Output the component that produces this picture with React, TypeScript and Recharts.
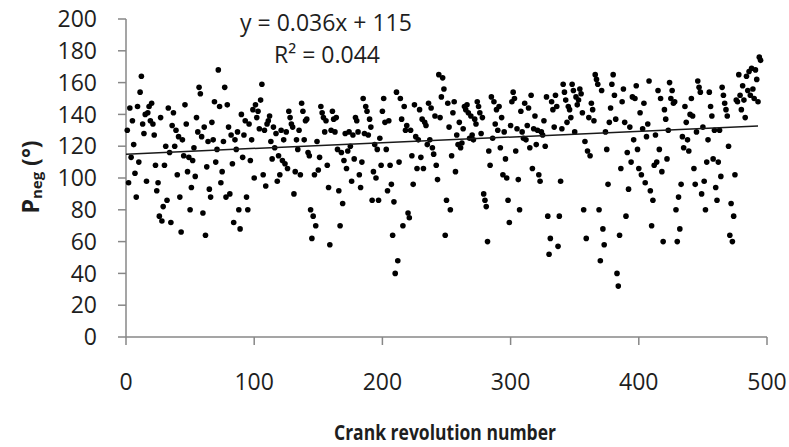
import { ScatterChart, Scatter, XAxis, YAxis } from "recharts";

// P_neg (deg) for each crank revolution (rev 1..495)
const pnegValues = [
  130, 97, 144, 113, 136, 121, 103, 88, 145, 110,
  154, 164, 134, 128, 140, 98, 141, 145, 136, 147,
  134, 127, 108, 92, 97, 76, 138, 73, 82, 108,
  120, 86, 144, 116, 72, 133, 141, 120, 130, 102,
  126, 88, 66, 124, 114, 146, 134, 104, 113, 80,
  94, 111, 119, 101, 138, 129, 157, 153, 126, 78,
  132, 64, 107, 123, 93, 88, 135, 124, 148, 110,
  118, 168, 145, 97, 104, 123, 157, 88, 146, 132,
  90, 127, 109, 72, 124, 118, 129, 80, 68, 140,
  113, 127, 136, 88, 80, 134, 111, 124, 143, 100,
  146, 138, 142, 131, 149, 159, 102, 130, 95, 134,
  136, 139, 123, 112, 132, 119, 128, 98, 114, 102,
  130, 111, 124, 109, 129, 106, 142, 138, 134, 132,
  90, 104, 124, 118, 130, 102, 147, 142, 124, 136,
  137, 116, 114, 80, 62, 76, 102, 70, 123, 105,
  113, 145, 141, 138, 129, 136, 108, 94, 58, 130,
  142, 137, 129, 138, 118, 92, 70, 116, 84, 111,
  128, 106, 117, 129, 120, 98, 127, 112, 138, 136,
  129, 102, 94, 110, 150, 128, 145, 142, 127, 137,
  132, 86, 104, 121, 100, 118, 86, 125, 108, 142,
  150, 135, 118, 92, 136, 108, 96, 64, 85, 40,
  154, 48, 110, 150, 137, 70, 145, 130, 133, 78,
  75, 130, 114, 96, 146, 126, 106, 124, 143, 113,
  137, 106, 135, 133, 121, 147, 124, 144, 119, 115,
  139, 108, 99, 165, 138, 151, 163, 156, 64, 86,
  147, 132, 80, 114, 141, 148, 104, 127, 121, 135,
  119, 122, 131, 145, 143, 146, 141, 125, 139, 127,
  124, 137, 134, 148, 145, 141, 128, 138, 90, 86,
  82, 60, 117, 108, 151, 125, 148, 134, 143, 130,
  145, 119, 138, 102, 129, 112, 100, 86, 72, 133,
  148, 154, 150, 117, 131, 99, 80, 142, 129, 125,
  147, 124, 133, 144, 119, 152, 106, 131, 139, 121,
  130, 102, 98, 129, 127, 136, 120, 151, 76, 52,
  62, 148, 143, 132, 152, 145, 57, 76, 98, 131,
  159, 154, 149, 135, 145, 143, 138, 159, 155, 129,
  151, 146, 149, 156, 153, 141, 80, 123, 62, 117,
  138, 114, 147, 143, 136, 165, 162, 159, 80, 48,
  155, 68, 58, 129, 118, 96, 135, 144, 159, 165,
  152, 137, 40, 32, 64, 106, 148, 156, 135, 76,
  116, 93, 132, 110, 151, 124, 150, 158, 118, 106,
  141, 102, 131, 147, 97, 126, 134, 161, 92, 70,
  86, 108, 127, 110, 155, 118, 150, 104, 60, 143,
  137, 112, 130, 160, 150, 155, 147, 148, 80, 60,
  88, 68, 96, 126, 119, 145, 135, 124, 117, 140,
  150, 139, 106, 96, 129, 161, 157, 154, 90, 132,
  98, 80, 110, 124, 154, 145, 139, 112, 130, 94,
  86, 110, 130, 101, 157, 152, 147, 143, 139, 120,
  64, 84, 60, 76, 102, 149, 148, 165, 152, 143,
  158, 149, 138, 164, 155, 167, 152, 169, 156, 150,
  168, 162, 148, 176, 174,
];

const xTicks = [0, 100, 200, 300, 400, 500];
const yTicks = [0, 20, 40, 60, 80, 100, 120, 140, 160, 180, 200];

// linear trendline end points as drawn
const trendRevs = [0, 493];
const trendPneg = [115, 132.7];

const points = pnegValues.map((p, i) => ({ rev: i + 1, pneg: p }));
const trendData = trendRevs.map((r, i) => ({ rev: r, pneg: trendPneg[i] }));

const FONT = "'Open Sans', 'Liberation Sans', sans-serif";
const AXIS = "#878787";

const Dot = (props: any) => (
  <circle cx={props.cx} cy={props.cy} r={2.8} fill="#000" />
);

const NoDot = () => <g />;

const App = () => {
  const tickStyle = { fontSize: 23, fill: "#1e1e1e", fontFamily: FONT };
  return (
    <div style={{ position: "relative", width: 789, height: 447, background: "#fff" }}>
      <style>{"body{margin:0}"}</style>
      <ScatterChart
        width={789}
        height={447}
        margin={{ top: 19, right: 22, bottom: 0, left: 0 }}
      >
        <XAxis
          type="number"
          dataKey="rev"
          domain={[0, 500]}
          ticks={xTicks}
          interval={0}
          height={110}
          tickSize={8}
          tickMargin={29}
          tick={tickStyle}
          axisLine={{ stroke: AXIS, strokeWidth: 1.5 }}
          tickLine={{ stroke: AXIS, strokeWidth: 1.5 }}
        />
        <YAxis
          type="number"
          dataKey="pneg"
          domain={[0, 200]}
          ticks={yTicks}
          interval={0}
          width={126}
          tickSize={8}
          tickMargin={21}
          tick={tickStyle}
          axisLine={{ stroke: AXIS, strokeWidth: 1.5 }}
          tickLine={{ stroke: AXIS, strokeWidth: 1.5 }}
        />
        <Scatter data={points} shape={Dot} isAnimationActive={false} />
        <Scatter
          data={trendData}
          line={{ stroke: "#1a1a1a", strokeWidth: 1.5 }}
          shape={NoDot}
          isAnimationActive={false}
        />
      </ScatterChart>
      <svg
        width={789}
        height={447}
        style={{ position: "absolute", left: 0, top: 0, pointerEvents: "none" }}
        fontFamily={FONT}
        fill="#1e1e1e"
      >
        <text x={326} y={22} textAnchor="middle" dominantBaseline="central" fontSize={23}>
          y = 0.036x + 115
        </text>
        <text x={327} y={54} textAnchor="middle" dominantBaseline="central" fontSize={23}>
          R² = 0.044
        </text>
        <text
          x={445}
          y={432}
          textAnchor="middle"
          dominantBaseline="central"
          fontSize={21}
          fontWeight="bold"
          textLength={222}
          lengthAdjust="spacingAndGlyphs"
        >
          Crank revolution number
        </text>
        <text
          transform="translate(30,177) rotate(-90)"
          textAnchor="middle"
          dominantBaseline="central"
          fontSize={23}
          fontWeight="bold"
        >
          P
          <tspan fontSize={15} dy={6}>neg</tspan>
          <tspan dy={-6}> (°)</tspan>
        </text>
      </svg>
    </div>
  );
};

export default App;
